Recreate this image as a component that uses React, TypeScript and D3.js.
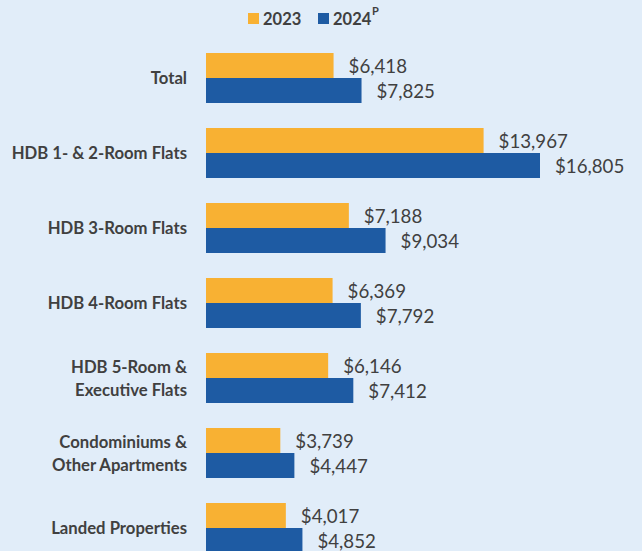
import React from "react";
import * as d3 from "d3";

const categories: string[][] = [
  ["Total"],
  ["HDB 1- & 2-Room Flats"],
  ["HDB 3-Room Flats"],
  ["HDB 4-Room Flats"],
  ["HDB 5-Room &", "Executive Flats"],
  ["Condominiums &", "Other Apartments"],
  ["Landed Properties"],
];
const values2023: number[] = [6418, 13967, 7188, 6369, 6146, 3739, 4017];
const values2024: number[] = [7825, 16805, 9034, 7792, 7412, 4447, 4852];
const seriesNames: string[] = ["2023", "2024"];

const W = 642;
const H = 551;
const COLORS = ["#F8B133", "#1E5BA3"];
const TEXT = "#404040";
const FONT = "Lato, 'Open Sans', sans-serif";

export default function App() {
  const keys = categories.map((c) => c.join(" "));
  const x = d3.scaleLinear().domain([0, 18000]).range([206, 206 + 18000 * (334 / 16805)]);
  const y = d3
    .scaleBand<string>()
    .domain(keys)
    .range([40.5, 565.5])
    .paddingInner(1 / 3)
    .paddingOuter(1 / 6);
  const sub = d3.scaleBand<string>().domain(seriesNames).range([0, y.bandwidth()]);
  const fmt = (v: number) => "$" + d3.format(",")(v);
  const series = [values2023, values2024];

  return (
    <svg width={W} height={H} style={{ position: "absolute", left: 0, top: 0, display: "block" }}>
      <rect x={0} y={0} width={W} height={H} fill="#E1EDF9" />
      {/* legend */}
      <g fontFamily={FONT} fontWeight="bold" fill={TEXT} fontSize={16.5}>
        <rect x={248} y={13} width={11} height={11} fill={COLORS[0]} />
        <text x={263} y={24.5}>2023</text>
        <rect x={318} y={13} width={11} height={11} fill={COLORS[1]} />
        <text x={333} y={24.5}>2024</text>
        <text x={372} y={15} fontSize={11}>P</text>
      </g>
      {keys.map((k, i) => {
        const y0 = y(k)!;
        const cy = y0 + y.bandwidth() / 2;
        const lines = categories[i];
        return (
          <g key={k}>
            <text
              x={187}
              textAnchor="end"
              fontFamily={FONT}
              fontWeight="bold"
              fontSize={16.7}
              fill={TEXT}
            >
              {lines.map((ln, j) => (
                <tspan key={j} x={187} y={cy + 6 + (j - (lines.length - 1) / 2) * 23}>
                  {ln}
                </tspan>
              ))}
            </text>
            {series.map((vals, s) => {
              const by = y0 + sub(seriesNames[s])!;
              const v = vals[i];
              return (
                <g key={s}>
                  <rect
                    x={x(0)}
                    y={by}
                    width={x(v) - x(0)}
                    height={sub.bandwidth()}
                    fill={COLORS[s]}
                  />
                  <text
                    x={x(v) + 15}
                    y={by + sub.bandwidth() / 2 + 7}
                    fontFamily={FONT}
                    fontSize={18.7}
                    fill={TEXT}
                  >
                    {fmt(v)}
                  </text>
                </g>
              );
            })}
          </g>
        );
      })}
    </svg>
  );
}
